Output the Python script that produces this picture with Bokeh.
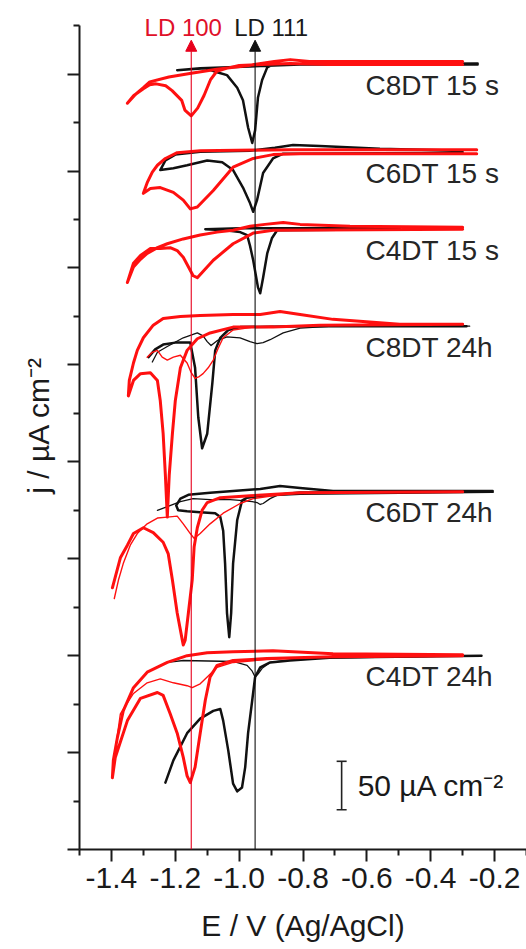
from bokeh.embed import file_html
from bokeh.models import (Arrow, ColumnDataSource, FixedTicker, Label, NormalHead,
                          Range1d, TeeHead, Whisker)
from bokeh.plotting import figure
from bokeh.resources import INLINE

# ---------------------------------------------------------------------------
# Reductive-desorption voltammograms of alkanedithiols on Au(100) (red) and
# Au(111) (black). Potentials E in V vs Ag/AgCl, currents j in uA cm^-2
# relative to each trace's own baseline; each sample is stacked by an offset.
# Thick lines: first scan, thin lines: second scan.
# ---------------------------------------------------------------------------

samples = ["C8DT 15 s", "C6DT 15 s", "C4DT 15 s", "C8DT 24h", "C6DT 24h", "C4DT 24h"]
offsets = [810, 720, 640, 540, 370, 200]

# C8DT 15 s
C8DT_15s_red_E = [-0.30, -0.50, -0.72, -0.84, -0.93, -1.00, -1.04, -1.07, -1.09, -1.11, -1.13,
                  -1.15, -1.17, -1.18, -1.21, -1.23, -1.26, -1.28, -1.30, -1.33, -1.35,
                  -1.325, -1.30, -1.28, -1.22, -1.15, -1.07, -0.97, -0.89, -0.84, -0.78, -0.50, -0.30]
C8DT_15s_red_j = [0, 0, 0, 1, 0, -1, -4, -7, -16, -32, -45,
                  -53, -47, -37, -27, -22, -20, -21, -25, -32, -40,
                  -31, -24, -18, -13, -9, -5, -1, 3, 5, 3, 3, 3]
C8DT_15s_black_E = [-0.253, -0.497, -0.809, -0.894, -0.912, -0.928, -0.941, -0.95, -0.959, -0.972,
                    -0.988, -1.006, -1.038, -1.069, -1.106, -1.153, -1.194,
                    -1.122, -0.966, -0.809, -0.253]
C8DT_15s_black_j = [0, 0, 0, 0, -3, -16, -34, -68, -81, -65,
                    -37, -24, -11, -8, -4, -5, -6,
                    -4, -2, 0, 1]

# C6DT 15 s
C6DT_15s_red_E = [-0.256, -0.497, -0.809, -0.894, -0.956, -1.019, -1.081, -1.131, -1.153, -1.175,
                  -1.206, -1.247, -1.278, -1.30,
                  -1.288, -1.272, -1.256, -1.231, -1.194, -1.122, -0.841, -0.256]
C6DT_15s_red_j = [-2, -2, -2, -3, -7, -16, -40, -57, -59, -50,
                  -42, -37, -38, -43,
                  -32, -21, -14, -7, -1, 1, 2, 2]
C6DT_15s_black_E = [-0.30, -0.809, -0.862, -0.894, -0.925, -0.944, -0.956, -0.966, -0.988, -1.019,
                    -1.053, -1.10, -1.163, -1.206, -1.247,
                    -1.231, -1.20, -1.122, -0.966, -0.888, -0.831, -0.747, -0.559, -0.30]
C6DT_15s_black_j = [-1, -2, -2, -7, -22, -50, -62, -53, -37, -19,
                    -11, -9, -14, -17, -19,
                    -9, -3, 0, 1, 4, 7, 6, 3, 1]

# C4DT 15 s
C4DT_15s_red_E = [-0.30, -0.894, -0.956, -1.019, -1.081, -1.131, -1.144, -1.175, -1.194, -1.216,
                  -1.247, -1.278, -1.309, -1.331, -1.35,
                  -1.331, -1.309, -1.288, -1.256, -1.225, -1.175, -1.122, -1.069, -1.019, -0.966,
                  -0.919, -0.862, -0.809, -0.653, -0.30]
C4DT_15s_red_j = [0, -1, -4, -15, -32, -50, -48, -29, -22, -19,
                  -20, -20, -27, -35, -55,
                  -39, -31, -25, -19, -15, -10, -6, -3, -1, 3,
                  5, 7, 5, 3, 2]
C4DT_15s_black_E = [-0.497, -0.881, -0.897, -0.912, -0.925, -0.934, -0.941, -0.956, -0.966, -0.975,
                    -0.997, -1.044, -1.106,
                    -0.997, -0.809, -0.497]
C4DT_15s_black_j = [0, -1, -9, -25, -50, -66, -60, -32, -17, -6,
                    -3, -1, 0,
                    1, 1, 1]

# C8DT 24h
C8DT_24h_red_E = [-0.30, -0.747, -0.894, -1.019, -1.091, -1.131, -1.163, -1.184, -1.20, -1.209,
                  -1.219, -1.225, -1.231, -1.238, -1.247, -1.256, -1.278, -1.309, -1.331, -1.347,
                  -1.344, -1.331, -1.319, -1.30, -1.269, -1.238, -1.184, -1.122, -1.019, -0.934,
                  -0.872, -0.809, -0.706, -0.497, -0.30]
C8DT_24h_red_j = [2, 1, -1, -1, -7, -13, -25, -43, -77, -111,
                  -154, -197, -154, -111, -77, -56, -48, -49, -56, -72,
                  -56, -38, -25, -12, 1, 8, 10, 11, 12, 12,
                  15, 12, 7, 2, 2]
C8DT_24h_red2_E = [-1.288, -1.272, -1.256, -1.241, -1.225, -1.206, -1.184, -1.163, -1.15, -1.138,
                   -1.125, -1.113, -1.097, -1.081, -1.066, -1.05, -1.019, -0.956, -0.894]
C8DT_24h_red2_j = [-32, -27, -25, -32, -35, -32, -30, -38, -48, -54,
                   -52, -49, -43, -35, -23, -12, -4, -1, 0]
C8DT_24h_black_E = [-0.288, -0.809, -0.997, -1.034, -1.059, -1.075, -1.084, -1.10, -1.116, -1.128,
                    -1.138, -1.153, -1.20, -1.238, -1.263, -1.284]
C8DT_24h_black_j = [0, 0, -1, -4, -12, -25, -59, -111, -126, -94,
                    -43, -17, -17, -19, -24, -32]
C8DT_24h_black2_E = [-1.272, -1.256, -1.225, -1.175, -1.131, -1.113, -1.10, -1.088, -1.069, -1.038,
                     -0.997, -0.966, -0.944, -0.925, -0.903, -0.862, -0.809, -0.706, -0.278]
C8DT_24h_black2_j = [-37, -27, -21, -12, -7, -10, -16, -20, -15, -11,
                     -12, -16, -18, -17, -14, -7, -2, 0, 0]

# C6DT 24h
C6DT_24h_red_E = [-0.30, -0.809, -0.966, -1.059, -1.10, -1.116, -1.131, -1.141, -1.147, -1.159,
                  -1.169, -1.175, -1.178, -1.194, -1.209, -1.222, -1.238, -1.269, -1.30, -1.331,
                  -1.35, -1.372, -1.397]
C6DT_24h_red_j = [-1, -2, -5, -7, -12, -20, -38, -58, -92, -126,
                  -154, -159, -154, -126, -92, -65, -53, -43, -38, -44,
                  -56, -69, -100]
C6DT_24h_red2_E = [-1.391, -1.378, -1.363, -1.341, -1.319, -1.288, -1.256, -1.225, -1.194, -1.175,
                   -1.153, -1.141, -1.122, -1.091, -1.05, -0.997, -0.956, -0.894, -0.809, -0.30]
C6DT_24h_red2_j = [-111, -92, -75, -56, -44, -34, -28, -27, -26, -34,
                   -44, -49, -44, -34, -23, -13, -8, -5, -2, -1]
C6DT_24h_black_E = [-0.206, -0.497, -0.809, -0.934, -0.975, -0.991, -1.006, -1.019, -1.025, -1.031,
                    -1.038, -1.044, -1.05, -1.059, -1.075, -1.122, -1.163, -1.191, -1.197,
                    -1.184, -1.159, -1.091, -1.019, -0.934, -0.872, -0.809, -0.706, -0.206]
C6DT_24h_black_j = [-1, -2, -3, -5, -7, -10, -30, -75, -126, -151,
                    -126, -75, -41, -27, -23, -22, -21, -20, -15,
                    -8, -4, -2, 0, 2, 5, 3, 0, 0]
C6DT_24h_black2_E = [-1.256, -1.231, -1.184, -1.144, -1.091, -1.028, -0.988, -0.959, -0.944, -0.934,
                     -0.925, -0.903, -0.872, -0.809, -0.206]
C6DT_24h_black2_j = [-20, -17, -11, -8, -9, -9, -10, -11, -12, -14,
                     -13, -8, -3, -1, -1]

# C4DT 24h
C4DT_24h_red_E = [-0.30, -0.706, -0.913, -1.019, -1.069, -1.091, -1.106, -1.122, -1.138, -1.153,
                  -1.163, -1.175, -1.194, -1.216, -1.238, -1.256, -1.309, -1.35, -1.388, -1.397,
                  -1.394, -1.381, -1.363, -1.331, -1.288, -1.225, -1.163, -1.10, -1.019, -0.894,
                  -0.706, -0.30]
C4DT_24h_red_j = [0, -1, -3, -5, -10, -22, -46, -80, -115, -131,
                  -124, -105, -80, -60, -41, -38, -44, -67, -105, -126,
                  -108, -84, -57, -33, -17, -7, 0, 3, 4, 5,
                  2, 1]
C4DT_24h_red2_E = [-1.388, -1.372, -1.331, -1.288, -1.247, -1.206, -1.163, -1.147, -1.122, -1.10,
                   -1.069, -1.019, -0.913, -0.706]
C4DT_24h_red2_j = [-98, -60, -39, -28, -24, -28, -31, -33, -29, -22,
                   -12, -7, -4, -1]
C4DT_24h_black_E = [-1.231, -1.206, -1.163, -1.122, -1.081, -1.059, -1.05, -1.034, -1.019, -1.006,
                    -0.991, -0.981, -0.972, -0.959, -0.95, -0.934, -0.903, -0.841, -0.706, -0.241]
C4DT_24h_black_j = [-131, -108, -80, -65, -57, -55, -67, -98, -132, -140,
                    -136, -115, -80, -46, -22, -12, -7, -5, -2, 0]
C4DT_24h_black2_E = [-1.225, -1.175, -1.019, -0.975, -0.959, -0.95, -0.941, -0.928, -0.903, -0.809,
                     -0.241]
C4DT_24h_black2_j = [-7, -5, -6, -10, -16, -22, -19, -13, -7, -3,
                     0]

# Lattice-desorption reference potentials
ld_names = ["LD 100", "LD 111"]
ld_E = [-1.15, -0.95]

# Axis ticks
x_ticks = [-1.4, -1.2, -1.0, -0.8, -0.6, -0.4, -0.2]
x_tick_labels = ["-1.4", "-1.2", "-1.0", "-0.8", "-0.6", "-0.4", "-0.2"]
x_minor_ticks = [-1.5, -1.3, -1.1, -0.9, -0.7, -0.5, -0.3, -0.1]
y_ticks = [0, 100, 200, 300, 400, 500, 600, 700, 800]
y_minor_ticks = [50, 150, 250, 350, 450, 550, 650, 750, 850]
y_axis_top = 850

# Current scale bar
scale_bar_j = 50
scale_bar_E = -0.679
scale_bar_low = 41

# ---------------------------------------------------------------------------
FONT = "Liberation Sans"
RED = "#ff1010"
BLACK = "#111111"
AXIS = "#1a1a1a"

# The frame runs up to the top edge so the LD captions fit inside it;
# the y axis itself stops at y_axis_top via its bounds.
p = figure(width=526, height=949, output_backend="svg", toolbar_location=None,
           x_range=Range1d(-1.5, -0.1), y_range=Range1d(0, 876),
           min_border_left=79, min_border_right=0, min_border_top=0, min_border_bottom=100)
p.outline_line_color = None
p.xgrid.visible = False
p.ygrid.visible = False
p.background_fill_color = "white"
p.border_fill_color = "white"

for ax in (p.xaxis[0], p.yaxis[0]):
    ax.axis_line_width = 2
    ax.axis_line_color = AXIS
    ax.major_tick_line_width = 2
    ax.minor_tick_line_width = 2
    ax.major_tick_line_color = AXIS
    ax.minor_tick_line_color = AXIS
    ax.major_tick_out = 12
    ax.major_tick_in = 0
    ax.minor_tick_out = 6
    ax.minor_tick_in = 0

p.xaxis.ticker = FixedTicker(ticks=x_ticks, minor_ticks=x_minor_ticks)
p.xaxis.major_label_overrides = dict(zip(x_ticks, x_tick_labels))
p.xaxis.major_label_text_font = FONT
p.xaxis.major_label_text_font_size = "30px"
p.xaxis.major_label_text_color = "#1a1a1a"
p.xaxis.major_label_standoff = 6
p.xaxis.axis_label = "E / V (Ag/AgCl)"
p.xaxis.axis_label_text_font = FONT
p.xaxis.axis_label_text_font_size = "30px"
p.xaxis.axis_label_text_font_style = "normal"
p.xaxis.axis_label_text_color = "#1a1a1a"
p.xaxis.axis_label_standoff = 18

p.yaxis.bounds = (0, y_axis_top)
p.yaxis.ticker = FixedTicker(ticks=y_ticks, minor_ticks=y_minor_ticks)
p.yaxis.major_label_overrides = {t: "" for t in y_ticks}
p.yaxis.major_label_standoff = 0
p.yaxis.axis_label = "j / µA cm⁻²"
p.yaxis.axis_label_text_font = FONT
p.yaxis.axis_label_text_font_size = "30px"
p.yaxis.axis_label_text_font_style = "normal"
p.yaxis.axis_label_text_color = "#1a1a1a"
p.yaxis.axis_label_standoff = 13

# LD reference lines with arrow heads
ld_colors = ["#e8001c", BLACK]
for E, c in zip(ld_E, ld_colors):
    p.add_layout(Arrow(x_start=E, y_start=0, x_end=E, y_end=835,
                       line_color=c, line_width=1.1,
                       end=NormalHead(size=11, fill_color=c, line_color=c, line_width=1)))

p.add_layout(Label(x=ld_E[0], y=848, x_offset=-8, text=ld_names[0], text_font=FONT,
                   text_font_size="24px", text_color="#e0102a", text_align="center",
                   text_baseline="middle"))
p.add_layout(Label(x=ld_E[1], y=848, x_offset=16, text=ld_names[1], text_font=FONT,
                   text_font_size="24px", text_color="#1a1a1a", text_align="center",
                   text_baseline="middle"))

# Voltammograms
traces = [
    # (sample index, E, j, colour, width)
    (0, C8DT_15s_black_E, C8DT_15s_black_j, BLACK, 2.5),
    (1, C6DT_15s_black_E, C6DT_15s_black_j, BLACK, 2.5),
    (2, C4DT_15s_black_E, C4DT_15s_black_j, BLACK, 2.5),
    (3, C8DT_24h_black_E, C8DT_24h_black_j, BLACK, 2.5),
    (3, C8DT_24h_black2_E, C8DT_24h_black2_j, BLACK, 1.3),
    (4, C6DT_24h_black_E, C6DT_24h_black_j, BLACK, 2.5),
    (4, C6DT_24h_black2_E, C6DT_24h_black2_j, BLACK, 1.3),
    (5, C4DT_24h_black_E, C4DT_24h_black_j, BLACK, 2.5),
    (5, C4DT_24h_black2_E, C4DT_24h_black2_j, BLACK, 1.3),
    (0, C8DT_15s_red_E, C8DT_15s_red_j, RED, 3.0),
    (1, C6DT_15s_red_E, C6DT_15s_red_j, RED, 3.0),
    (2, C4DT_15s_red_E, C4DT_15s_red_j, RED, 3.0),
    (3, C8DT_24h_red_E, C8DT_24h_red_j, RED, 3.0),
    (3, C8DT_24h_red2_E, C8DT_24h_red2_j, RED, 1.4),
    (4, C6DT_24h_red_E, C6DT_24h_red_j, RED, 3.0),
    (4, C6DT_24h_red2_E, C6DT_24h_red2_j, RED, 1.4),
    (5, C4DT_24h_red_E, C4DT_24h_red_j, RED, 3.0),
    (5, C4DT_24h_red2_E, C4DT_24h_red2_j, RED, 1.4),
]
for k, E, j, color, w in traces:
    src = ColumnDataSource(dict(E=E, y=[offsets[k] + v for v in j]))
    p.line("E", "y", source=src, line_color=color, line_width=w,
           line_join="round", line_cap="round")

# Sample labels, just under each trace's baseline
for name, off in zip(samples, offsets):
    p.add_layout(Label(x=-0.604, y=off - 22, text=name, text_font=FONT,
                       text_font_size="28px", text_color="#262626",
                       text_align="left", text_baseline="middle"))

# Scale bar
bar = ColumnDataSource(dict(base=[scale_bar_E], lower=[scale_bar_low],
                            upper=[scale_bar_low + scale_bar_j]))
p.add_layout(Whisker(source=bar, base="base", lower="lower", upper="upper",
                     dimension="height", line_color="#222222", line_width=1.6,
                     lower_head=TeeHead(size=10, line_color="#222222", line_width=1.6),
                     upper_head=TeeHead(size=10, line_color="#222222", line_width=1.6)))
p.add_layout(Label(x=scale_bar_E, y=scale_bar_low + scale_bar_j / 2, x_offset=16,
                   text=f"{scale_bar_j} µA cm⁻²", text_font=FONT, text_font_size="30px",
                   text_color="#1a1a1a", text_align="left", text_baseline="middle"))

open("out.html", "w").write(file_html(p, INLINE))
